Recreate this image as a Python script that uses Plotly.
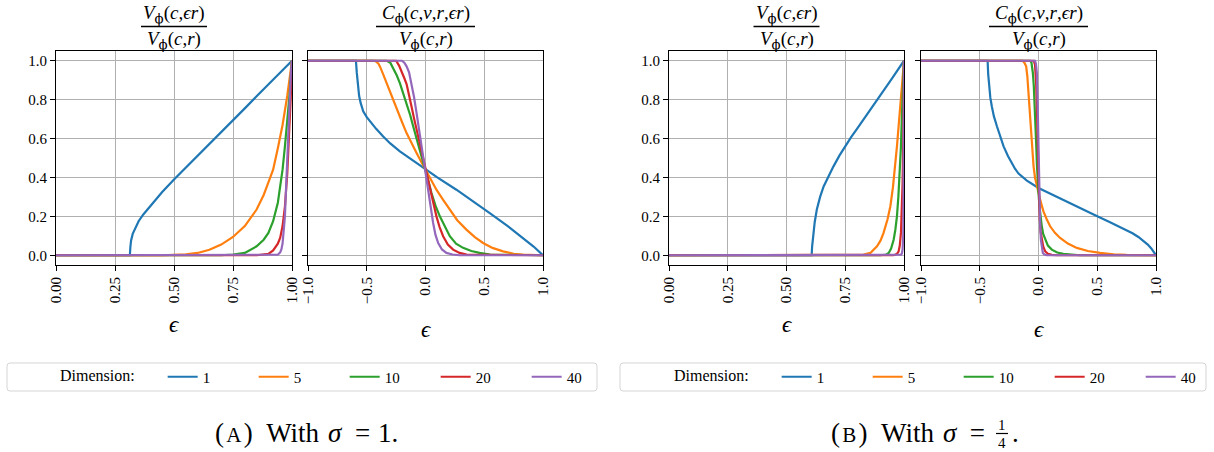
import plotly.graph_objects as go

W, H = 1214, 452
COLORS = ['#1f77b4', '#ff7f0e', '#2ca02c', '#d62728', '#9467bd']
DIMENSIONS = ['1', '5', '10', '20', '40']

# ---------------- (A) sigma = 1 : volume ratio ----------------
A_V_d1_x = [0, 0.313, 0.315, 0.318, 0.325, 0.335, 0.35, 0.37, 0.40, 0.45, 0.50, 0.55, 0.60, 0.65, 0.70, 0.75, 0.80, 0.85, 0.90, 0.95, 1.0]
A_V_d1_y = [0, 0, 0.04, 0.075, 0.11, 0.14, 0.175, 0.21, 0.255, 0.325, 0.39, 0.45, 0.51, 0.572, 0.633, 0.694, 0.755, 0.817, 0.878, 0.939, 1.0]
A_V_d5_x = [0, 0.45, 0.55, 0.6, 0.65, 0.7, 0.75, 0.8, 0.85, 0.88, 0.9, 0.92, 0.94, 0.96, 0.98, 1.0]
A_V_d5_y = [0, 0, 0.005, 0.012, 0.028, 0.055, 0.094, 0.15, 0.235, 0.31, 0.375, 0.44, 0.55, 0.67, 0.82, 1.0]
A_V_d10_x = [0, 0.7, 0.75, 0.8, 0.85, 0.88, 0.9, 0.92, 0.94, 0.95, 0.96, 0.97, 0.98, 0.99, 1.0]
A_V_d10_y = [0, 0, 0.004, 0.012, 0.046, 0.08, 0.115, 0.175, 0.27, 0.35, 0.44, 0.56, 0.68, 0.83, 1.0]
A_V_d20_x = [0, 0.85, 0.9, 0.92, 0.94, 0.95, 0.96, 0.97, 0.98, 0.99, 0.995, 1.0]
A_V_d20_y = [0, 0, 0.007, 0.025, 0.06, 0.09, 0.15, 0.25, 0.42, 0.66, 0.82, 1.0]
A_V_d40_x = [0, 0.92, 0.94, 0.95, 0.955, 0.96, 0.965, 0.97, 0.975, 0.98, 0.985, 0.99, 0.995, 1.0]
A_V_d40_y = [0, 0, 0.003, 0.015, 0.03, 0.06, 0.115, 0.2, 0.35, 0.5, 0.66, 0.8, 0.93, 1.0]

# ---------------- (A) sigma = 1 : cap ratio ----------------
A_C_d1_x = [-1, -0.592, -0.585, -0.575, -0.565, -0.552, -0.53, -0.5, -0.473, -0.42, -0.36, -0.3, -0.218, -0.1, 0, 0.1, 0.263, 0.4, 0.547, 0.7, 0.83, 0.92, 1.0]
A_C_d1_y = [1, 1, 0.94, 0.87, 0.82, 0.783, 0.74, 0.71, 0.688, 0.65, 0.611, 0.575, 0.534, 0.485, 0.44, 0.4, 0.337, 0.28, 0.217, 0.15, 0.089, 0.045, 0]
A_C_d5_x = [-1, -0.43, -0.4, -0.388, -0.36, -0.331, -0.29, -0.246, -0.2, -0.161, -0.12, -0.076, -0.04, 0, 0.04, 0.093, 0.15, 0.207, 0.27, 0.348, 0.42, 0.49, 0.57, 0.66, 0.75, 0.83, 1.0]
A_C_d5_y = [1, 1, 0.985, 0.971, 0.93, 0.885, 0.815, 0.748, 0.685, 0.628, 0.575, 0.526, 0.485, 0.44, 0.39, 0.337, 0.285, 0.235, 0.18, 0.132, 0.093, 0.063, 0.038, 0.02, 0.008, 0.003, 0]
A_C_d10_x = [-1, -0.33, -0.3, -0.275, -0.245, -0.218, -0.19, -0.161, -0.13, -0.105, -0.075, -0.048, -0.025, 0, 0.025, 0.051, 0.085, 0.122, 0.165, 0.207, 0.26, 0.32, 0.39, 0.46, 0.55, 1.0]
A_C_d10_y = [1, 1, 0.99, 0.962, 0.925, 0.885, 0.835, 0.783, 0.72, 0.663, 0.6, 0.543, 0.49, 0.44, 0.38, 0.32, 0.255, 0.2, 0.145, 0.098, 0.06, 0.038, 0.022, 0.012, 0.004, 0]
A_C_d20_x = [-1, -0.25, -0.225, -0.204, -0.18, -0.161, -0.14, -0.119, -0.098, -0.076, -0.055, -0.034, -0.017, 0, 0.018, 0.037, 0.065, 0.093, 0.12, 0.15, 0.19, 0.235, 0.29, 0.35, 1.0]
A_C_d20_y = [1, 1, 0.975, 0.94, 0.91, 0.88, 0.83, 0.765, 0.705, 0.646, 0.585, 0.526, 0.48, 0.44, 0.39, 0.337, 0.265, 0.2, 0.145, 0.098, 0.055, 0.029, 0.012, 0.003, 0]
A_C_d40_x = [-1, -0.2, -0.18, -0.161, -0.14, -0.119, -0.098, -0.076, -0.055, -0.034, -0.017, 0, 0.015, 0.031, 0.048, 0.065, 0.085, 0.108, 0.14, 0.178, 0.23, 0.29, 1.0]
A_C_d40_y = [1, 1, 0.99, 0.971, 0.94, 0.885, 0.815, 0.731, 0.645, 0.56, 0.5, 0.44, 0.37, 0.303, 0.23, 0.166, 0.105, 0.063, 0.03, 0.012, 0.004, 0, 0]

# ---------------- (B) sigma = 1/4 : volume ratio ----------------
B_V_d1_x = [0, 0.607, 0.609, 0.612, 0.615, 0.62, 0.629, 0.643, 0.658, 0.68, 0.7, 0.725, 0.75, 0.775, 0.8, 0.85, 0.9, 0.95, 1.0]
B_V_d1_y = [0, 0, 0.045, 0.08, 0.115, 0.17, 0.235, 0.3, 0.354, 0.41, 0.457, 0.512, 0.562, 0.607, 0.65, 0.735, 0.82, 0.91, 1.0]
B_V_d5_x = [0, 0.8, 0.828, 0.857, 0.885, 0.9, 0.913, 0.93, 0.942, 0.953, 0.963, 0.97, 0.977, 0.985, 0.991, 1.0]
B_V_d5_y = [0, 0, 0.003, 0.012, 0.046, 0.075, 0.115, 0.185, 0.252, 0.35, 0.457, 0.56, 0.663, 0.78, 0.885, 1.0]
B_V_d10_x = [0, 0.9, 0.925, 0.935, 0.945, 0.956, 0.963, 0.97, 0.976, 0.982, 0.987, 0.991, 0.995, 1.0]
B_V_d10_y = [0, 0, 0.004, 0.012, 0.035, 0.08, 0.13, 0.2, 0.3, 0.423, 0.56, 0.714, 0.85, 1.0]
B_V_d20_x = [0, 0.955, 0.965, 0.972, 0.977, 0.982, 0.987, 0.99, 0.994, 0.997, 1.0]
B_V_d20_y = [0, 0, 0.004, 0.01, 0.02, 0.05, 0.115, 0.2, 0.37, 0.6, 1.0]
B_V_d40_x = [0, 0.982, 0.988, 0.991, 0.994, 0.997, 0.999, 1.0]
B_V_d40_y = [0, 0, 0.003, 0.01, 0.03, 0.11, 0.4, 1.0]

# ---------------- (B) sigma = 1/4 : cap ratio ----------------
B_C_d1_x = [-1, -0.433, -0.428, -0.42, -0.41, -0.397, -0.38, -0.354, -0.33, -0.297, -0.26, -0.227, -0.2, -0.17, -0.099, 0, 0.1, 0.2, 0.3, 0.4, 0.5, 0.6, 0.65, 0.7, 0.75, 0.8, 0.85, 0.9, 0.93, 0.96, 0.98, 1.0]
B_C_d1_y = [1, 1, 0.93, 0.87, 0.81, 0.765, 0.715, 0.663, 0.615, 0.56, 0.51, 0.474, 0.445, 0.42, 0.384, 0.346, 0.316, 0.288, 0.259, 0.23, 0.2, 0.172, 0.158, 0.145, 0.13, 0.113, 0.094, 0.072, 0.055, 0.035, 0.019, 0]
B_C_d5_x = [-1, -0.135, -0.12, -0.105, -0.095, -0.085, -0.075, -0.065, -0.055, -0.042, -0.03, -0.014, 0, 0.014, 0.028, 0.042, 0.07, 0.099, 0.14, 0.184, 0.25, 0.326, 0.42, 0.524, 0.64, 0.75, 1.0]
B_C_d5_y = [1, 1, 0.99, 0.971, 0.92, 0.834, 0.73, 0.628, 0.54, 0.457, 0.4, 0.354, 0.32, 0.286, 0.255, 0.226, 0.185, 0.149, 0.115, 0.089, 0.06, 0.038, 0.022, 0.012, 0.005, 0.002, 0]
B_C_d10_x = [-1, -0.07, -0.06, -0.048, -0.04, -0.034, -0.027, -0.02, -0.013, -0.006, 0, 0.008, 0.018, 0.028, 0.04, 0.057, 0.08, 0.113, 0.16, 0.212, 0.28, 0.354, 1.0]
B_C_d10_y = [1, 1, 0.99, 0.937, 0.87, 0.8, 0.69, 0.577, 0.46, 0.354, 0.32, 0.252, 0.19, 0.149, 0.11, 0.08, 0.05, 0.029, 0.014, 0.007, 0.002, 0, 0]
B_C_d20_x = [-1, -0.04, -0.03, -0.02, -0.014, -0.008, -0.003, 0, 0.005, 0.011, 0.018, 0.028, 0.04, 0.057, 0.08, 0.113, 0.16, 1.0]
B_C_d20_y = [1, 1, 0.98, 0.885, 0.76, 0.628, 0.48, 0.372, 0.27, 0.183, 0.12, 0.08, 0.045, 0.02, 0.008, 0.002, 0, 0]
B_C_d40_x = [-1, -0.03, -0.022, -0.014, -0.008, -0.003, 0.002, 0.008, 0.014, 0.02, 0.028, 0.037, 0.05, 0.071, 1.0]
B_C_d40_y = [1, 1, 0.985, 0.937, 0.8, 0.628, 0.45, 0.286, 0.16, 0.08, 0.035, 0.012, 0.004, 0, 0]

# tick labels
Y_TICKS = [0, 0.2, 0.4, 0.6, 0.8, 1.0]
Y_TICKTEXT = ['0.0', '0.2', '0.4', '0.6', '0.8', '1.0']
XV_TICKS = [0, 0.25, 0.5, 0.75, 1.0]
XV_TICKTEXT = ['0.00', '0.25', '0.50', '0.75', '1.00']
XC_TICKS = [-1, -0.5, 0, 0.5, 1.0]
XC_TICKTEXT = ['\u22121.0', '\u22120.5', '0.0', '0.5', '1.0']

FONT = 'Liberation Serif, Times New Roman, Times, DejaVu Serif, serif'


def px(x):
    return x / W


def py(y):
    return 1 - y / H


panels = [
    ('x', 'y', [(A_V_d1_x, A_V_d1_y), (A_V_d5_x, A_V_d5_y), (A_V_d10_x, A_V_d10_y), (A_V_d20_x, A_V_d20_y), (A_V_d40_x, A_V_d40_y)], 'legend'),
    ('x2', 'y2', [(A_C_d1_x, A_C_d1_y), (A_C_d5_x, A_C_d5_y), (A_C_d10_x, A_C_d10_y), (A_C_d20_x, A_C_d20_y), (A_C_d40_x, A_C_d40_y)], None),
    ('x3', 'y3', [(B_V_d1_x, B_V_d1_y), (B_V_d5_x, B_V_d5_y), (B_V_d10_x, B_V_d10_y), (B_V_d20_x, B_V_d20_y), (B_V_d40_x, B_V_d40_y)], 'legend2'),
    ('x4', 'y4', [(B_C_d1_x, B_C_d1_y), (B_C_d5_x, B_C_d5_y), (B_C_d10_x, B_C_d10_y), (B_C_d20_x, B_C_d20_y), (B_C_d40_x, B_C_d40_y)], None),
]

fig = go.Figure()
for xa, ya, series, leg in panels:
    for (xs, ys), color, name in zip(series, COLORS, DIMENSIONS):
        fig.add_trace(go.Scatter(
            x=xs, y=ys, mode='lines', name=name,
            line=dict(color=color, width=2.2),
            xaxis=xa, yaxis=ya,
            showlegend=leg is not None,
            legend=leg if leg else 'legend',
            hoverinfo='skip',
        ))

x_domains = [(56, 292), (308, 543), (669, 904), (921, 1156)]
y_dom = [py(265), py(51)]

axis_common = dict(
    showline=True, mirror=True, linecolor='black', linewidth=1.2,
    ticks='outside', ticklen=5, tickwidth=1.2, tickcolor='black',
    showgrid=True, gridcolor='#b0b0b0', gridwidth=1,
    zeroline=False, tickfont=dict(family=FONT, size=15, color='black'),
)

layout_axes = {}
for i, (x0, x1) in enumerate(x_domains):
    sfx = '' if i == 0 else str(i + 1)
    is_vol = i in (0, 2)
    layout_axes['xaxis' + sfx] = dict(
        axis_common, domain=[px(x0), px(x1)], anchor='y' + sfx,
        range=[0, 1] if is_vol else [-1, 1],
        tickvals=XV_TICKS if is_vol else XC_TICKS,
        ticktext=XV_TICKTEXT if is_vol else XC_TICKTEXT,
        tickangle=-90,
    )
    layout_axes['yaxis' + sfx] = dict(
        axis_common, domain=y_dom, anchor='x' + sfx,
        range=[-0.05, 1.05], tickvals=Y_TICKS, ticktext=Y_TICKTEXT,
        showticklabels=is_vol,
    )

annotations = []
shapes = []

# subplot titles as stacked fractions
PHI = '<span style="font-family:DejaVu Serif">\u03d5</span>'
num_V = '<i>V</i><sub>' + PHI + '</sub>(<i>c</i>,<i>\u03f5r</i>)'
num_C = '<i>C</i><sub>' + PHI + '</sub>(<i>c</i>,<i>v</i>,<i>r</i>,<i>\u03f5r</i>)'
den = '<i>V</i><sub>' + PHI + '</sub>(<i>c</i>,<i>r</i>)'
title_specs = [(174, num_V, 66), (425.5, num_C, 99), (786.5, num_V, 66), (1038.5, num_C, 99)]
for cx, num, lw in title_specs:
    annotations.append(dict(x=px(cx), y=py(14), xref='paper', yref='paper', text=num, showarrow=False,
                            xanchor='center', yanchor='middle', font=dict(family=FONT, size=19, color='black')))
    annotations.append(dict(x=px(cx), y=py(40), xref='paper', yref='paper', text=den, showarrow=False,
                            xanchor='center', yanchor='middle', font=dict(family=FONT, size=19, color='black')))
    shapes.append(dict(type='line', xref='paper', yref='paper', x0=px(cx - lw / 2), x1=px(cx + lw / 2),
                       y0=py(26.5), y1=py(26.5), line=dict(color='black', width=1.5)))

# x-axis labels (epsilon)
for cx, cy in [(174, 324), (425.5, 329), (786.5, 324), (1038.5, 329)]:
    annotations.append(dict(x=px(cx), y=py(cy), xref='paper', yref='paper', text='<i>\u03f5</i>', showarrow=False,
                            xanchor='center', yanchor='middle', font=dict(family=FONT, size=23, color='black')))

# legend boxes (rounded)
def rounded_rect(x0, y0, x1, y1, r=3):
    X0, X1 = px(x0), px(x1)
    Y0, Y1 = py(y0), py(y1)
    rx, ry = r / W, r / H
    return (f'M {X0 + rx},{Y0} L {X1 - rx},{Y0} Q {X1},{Y0} {X1},{Y0 - ry} '
            f'L {X1},{Y1 + ry} Q {X1},{Y1} {X1 - rx},{Y1} L {X0 + rx},{Y1} '
            f'Q {X0},{Y1} {X0},{Y1 + ry} L {X0},{Y0 - ry} Q {X0},{Y0} {X0 + rx},{Y0} Z')

for bx0, bx1 in [(7, 597), (620, 1206)]:
    shapes.append(dict(type='path', xref='paper', yref='paper', path=rounded_rect(bx0, 363, bx1, 391),
                       line=dict(color='#d5d5d5', width=1), fillcolor='rgba(255,255,255,0.8)', layer='below'))

# captions
cap_font = dict(family=FONT, size=27, color='black')
cap_y = 433
for tag, right_x in [('A', 372), ('B', 987)]:
    annotations.append(dict(x=px(right_x), y=py(cap_y), xref='paper', yref='paper', showarrow=False,
                            xanchor='right', yanchor='middle',
                            text='(\u200a<span style="font-size:21px">' + tag + '</span>\u200a)\u2002With\u2004<i>\u03c3</i>\u2002=',
                            font=cap_font))
annotations.append(dict(x=px(376), y=py(cap_y), xref='paper', yref='paper', showarrow=False, xanchor='left', yanchor='middle',
                        text='1.', font=cap_font))
annotations.append(dict(x=px(1002), y=py(424.5), xref='paper', yref='paper', showarrow=False, xanchor='center', yanchor='middle',
                        height=14, valign='middle', borderpad=0, text='1', font=dict(family=FONT, size=15, color='black')))
annotations.append(dict(x=px(1002), y=py(442.5), xref='paper', yref='paper', showarrow=False, xanchor='center', yanchor='middle',
                        height=14, valign='middle', borderpad=0, text='4', font=dict(family=FONT, size=15, color='black')))
shapes.append(dict(type='line', xref='paper', yref='paper', x0=px(996), x1=px(1008), y0=py(433.5), y1=py(433.5),
                   line=dict(color='black', width=1.2)))
annotations.append(dict(x=px(1010), y=py(cap_y), xref='paper', yref='paper', showarrow=False, xanchor='left', yanchor='middle',
                        text='.', font=cap_font))

legend_common = dict(
    orientation='h', xanchor='left', yanchor='middle', bgcolor='rgba(0,0,0,0)', borderwidth=0,
    font=dict(family=FONT, size=15, color='black'),
    title=dict(text='Dimension:\u2003\u2005', side='left', font=dict(family=FONT, size=16, color='black')),
    entrywidth=46, entrywidthmode='pixels', itemwidth=30, tracegroupgap=0,
)

fig.update_layout(
    width=W, height=H,
    margin=dict(l=0, r=0, t=0, b=0, autoexpand=False),
    paper_bgcolor='white', plot_bgcolor='white',
    font=dict(family=FONT, color='black'),
    annotations=annotations, shapes=shapes,
    legend=dict(legend_common, x=px(58), y=py(377)),
    legend2=dict(legend_common, x=px(672), y=py(377)),
    **layout_axes,
)

fig.write_html('out.html', config={'displayModeBar': False},
               post_script="document.body.style.margin='0px';document.body.style.overflow='hidden';")
